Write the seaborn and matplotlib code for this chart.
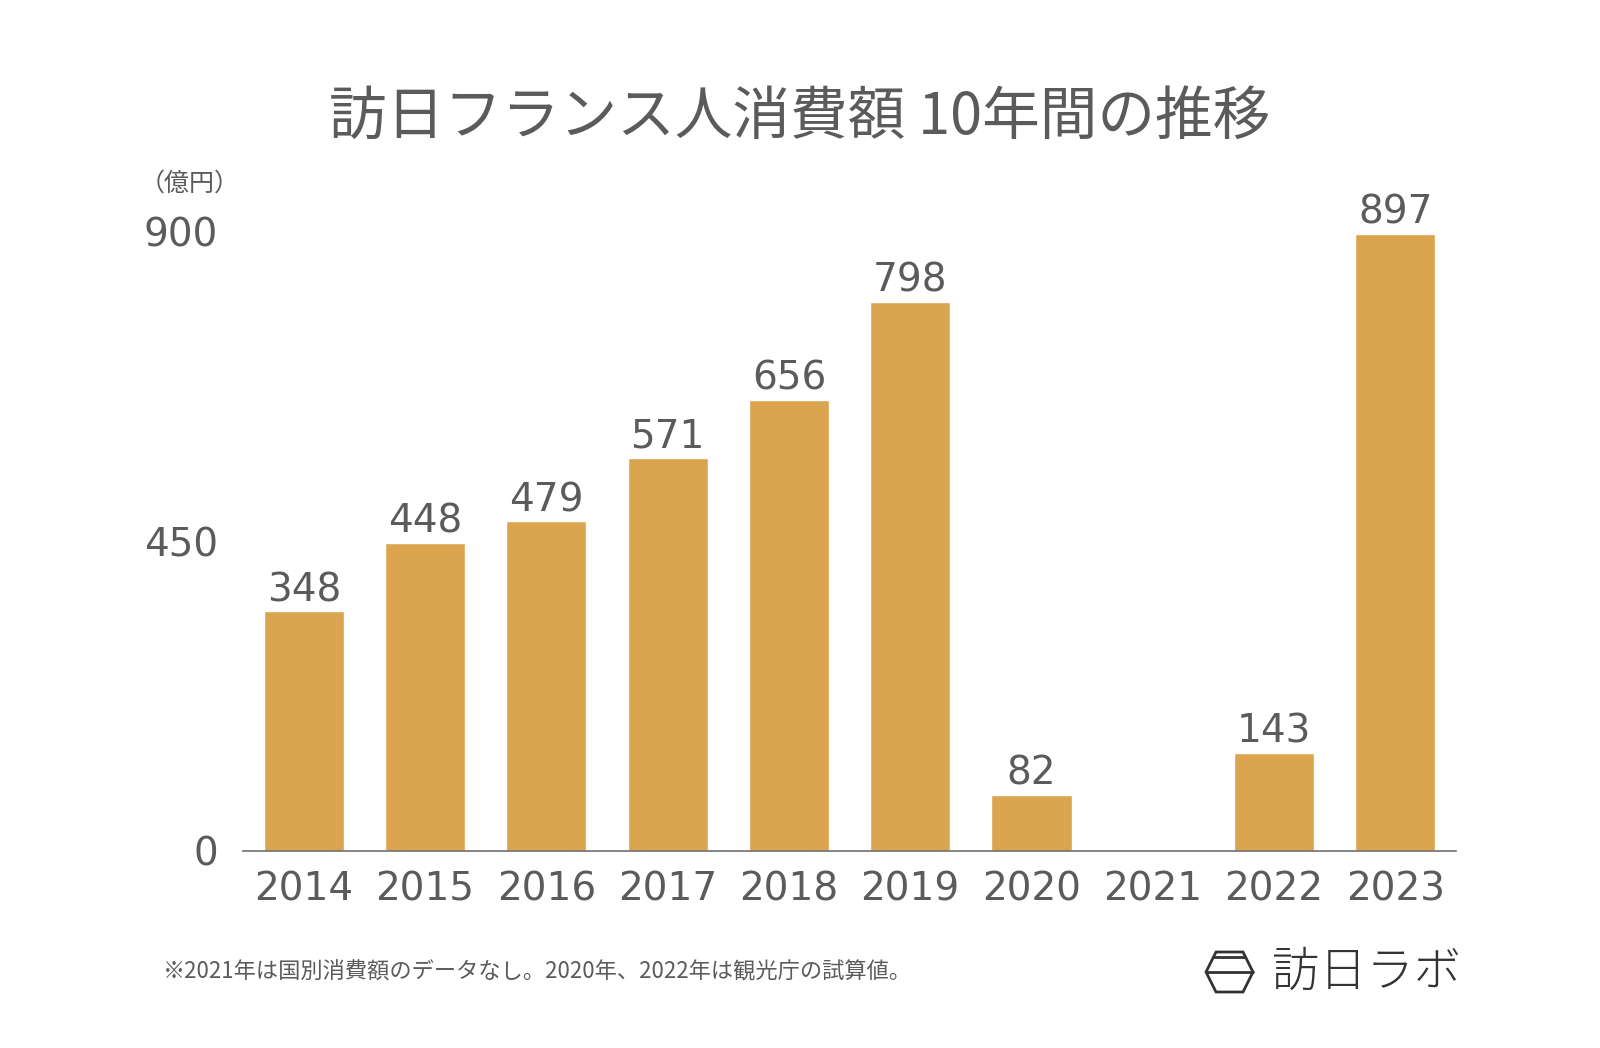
import numpy as np
import pandas as pd
import seaborn as sns
import matplotlib.pyplot as plt
from matplotlib.patches import Polygon

# data
years = ['2014', '2015', '2016', '2017', '2018', '2019', '2020', '2021', '2022', '2023']
spending = [348, 448, 479, 571, 656, 798, 82, np.nan, 143, 897]
y_ticks = [0, 450, 900]

title = '訪日フランス人消費額 10年間の推移'
unit_label = '（億円）'
footnote = '※2021年は国別消費額のデータなし。2020年、2022年は観光庁の試算値。'
brand = '訪日ラボ'

bar_color = '#DBA550'
text_color = '#5b5b5b'

sns.set_style('white')
# wide latin digits first, Japanese glyphs fall through to Noto CJK
plt.rcParams['font.family'] = ['DejaVu Sans', 'Noto Sans CJK JP']

df = pd.DataFrame({'year': years, 'value': spending})

fig = plt.figure(figsize=(16, 10.48), dpi=100)
ax = fig.add_axes([0.152, 0.188, 0.758, 0.591])

sns.barplot(data=df, x='year', y='value', order=years, color=bar_color,
            width=0.66, saturation=1, ax=ax)

# value labels on top of the bars
for i, v in enumerate(spending):
    if np.isnan(v):
        continue
    ax.text(i, v + 3, '{:d}'.format(int(v)), ha='center', va='bottom',
            fontsize=28, color=text_color)

ax.set_xlim(-0.5, 9.5)
ax.set_ylim(0, 900)
ax.set_yticks(y_ticks)
ax.set_yticklabels([str(t) for t in y_ticks])
ax.tick_params(axis='both', length=0, labelsize=28, labelcolor=text_color)
ax.tick_params(axis='y', pad=18)
ax.tick_params(axis='x', pad=14)
ax.set_xlabel('')
ax.set_ylabel('')

for side in ['top', 'right', 'left']:
    ax.spines[side].set_visible(False)
ax.spines['bottom'].set_color('#707070')
ax.spines['bottom'].set_linewidth(1.2)

# texts around the chart
fig.text(0.5, 0.888, title, ha='center', va='center', fontsize=41.5,
         color=text_color, family=['Noto Sans CJK JP'])
fig.text(0.087, 0.825, unit_label, ha='left', va='center', fontsize=18,
         color=text_color, family=['Noto Sans CJK JP'])
fig.text(0.102, 0.073, footnote, ha='left', va='center', fontsize=16,
         color=text_color, family=['Noto Sans CJK JP'])

# brand logo
hexagon = np.array([[1216, 952], [1243, 952], [1253, 972],
                    [1243, 992], [1216, 992], [1206, 972]], dtype=float)
hexagon[:, 0] /= 1600
hexagon[:, 1] = 1 - hexagon[:, 1] / 1048
fig.patches.append(Polygon(hexagon, closed=True, fill=False, edgecolor='#333333',
                           linewidth=2, transform=fig.transFigure))
for y_px, x0, x1 in [(957, 1214, 1245), (972, 1206, 1253)]:
    fig.add_artist(plt.Line2D([x0 / 1600, x1 / 1600], [1 - y_px / 1048] * 2,
                              color='#333333', linewidth=2,
                              transform=fig.transFigure))
fig.text(0.795, 0.072, brand, ha='left', va='center', fontsize=34,
         fontweight='light', color='#333333', family=['Noto Sans CJK JP'])

plt.savefig('out.png', dpi=100, facecolor='white')
